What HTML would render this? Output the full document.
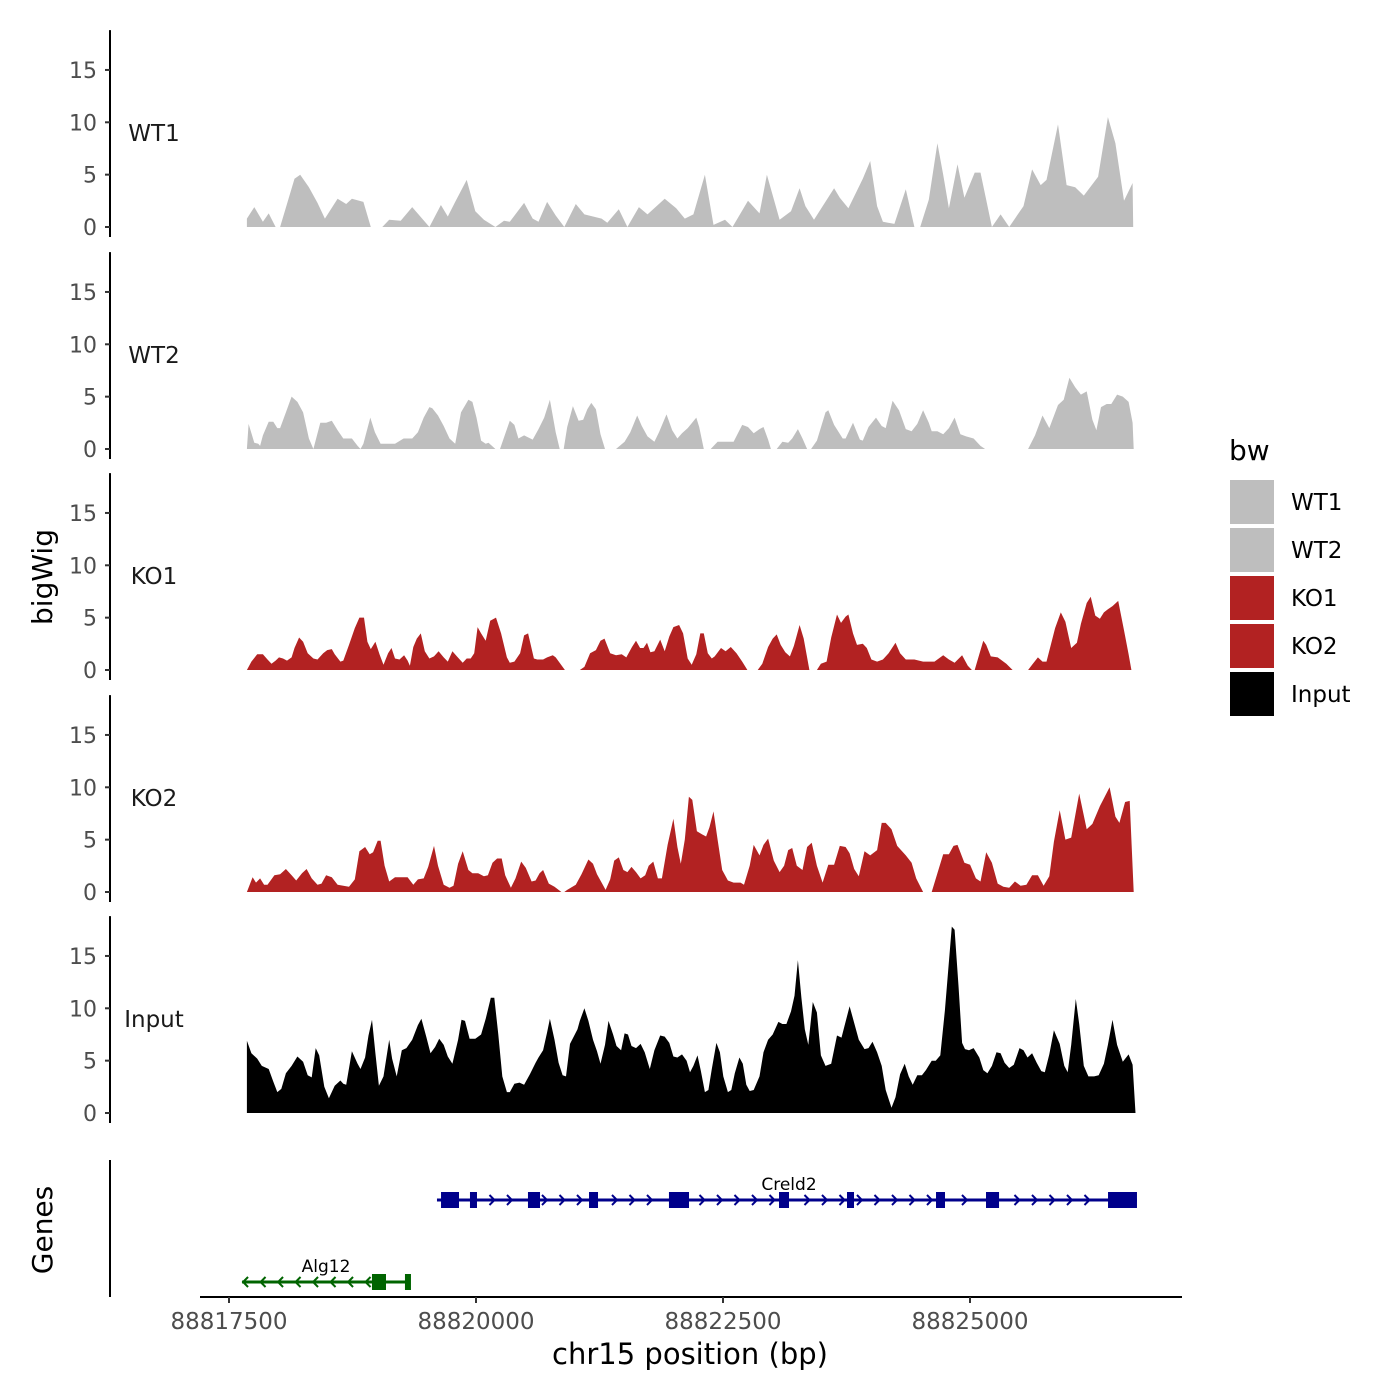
<!DOCTYPE html>
<html><head><meta charset="utf-8"><style>
html,body{margin:0;padding:0;background:#fff;}
svg{display:block;font-family:"DejaVu Sans","Liberation Sans",sans-serif;}
</style></head><body>
<svg id="chart" width="1400" height="1400" viewBox="0 0 1400 1400"></svg>
<script>
// ---- data ----
const regionStart = 88817611;   // bp of bin 0
const binSize = 5.81;            // bp per bin
const trackNames = ["WT1","WT2","KO1","KO2","Input"];
const trackColors = ["#bebebe","#bebebe","#b22222","#b22222","#000000"];
const yTicks = [0,5,10,15];
const xTickValues = [88817500,88820000,88822500,88825000];
const xTickLabels = ["88817500","88820000","88822500","88825000"];

const wt1 = [[12,0.8],[25,1.9],[40,0.5],[50,1.3],[62,0],null,[70,0],[95,4.6],[105,5],[120,3.8],[135,2.3],[148,0.8],[170,2.7],[185,2.2],[195,2.7],[215,2.4],[228,0],null,[248,0],[260,0.7],[280,0.6],[300,1.9],[330,0],[350,2.1],[362,1],[375,2.4],[395,4.5],[410,1.5],[425,0.7],[445,0],[460,0.6],[470,0.5],[495,2.3],[510,0.8],[520,0.5],[535,2.4],[550,1.1],[565,0],[585,2.2],[600,1.2],[630,0.8],[640,0.4],[660,1.7],[675,0],[695,1.9],[710,1.2],[740,2.7],[760,1.8],[775,0.8],[790,1.2],[810,5],[825,0.2],[845,0.7],[858,0],[885,2.5],[905,1.3],[918,5],[940,0.7],[960,1.5],[975,3.7],[985,2],[1000,0.7],[1035,3.7],[1045,2.8],[1060,1.8],[1085,4.6],[1098,6.3],[1110,2],[1120,0.5],[1140,0.3],[1160,3.6],[1175,0],null,[1185,0],[1200,2.6],[1215,8],[1225,5],[1235,1.8],[1250,6],[1262,2.8],[1280,5.2],[1290,5.2],[1310,0],[1325,1.2],[1340,0],[1355,1.2],[1365,2],[1380,5.5],[1395,4],[1405,4.5],[1425,9.8],[1440,4],[1455,3.8],[1470,3],[1495,4.8],[1512,10.5],[1525,8],[1540,2.5],[1555,4.2],[1556,0]];

const wt2 = [[12,0],[15,2.4],[25,0.6],[32,0.5],[35,0.3],[40,1.3],[50,2.6],[58,2.6],[65,2],[70,2],[80,3.5],[90,5],[100,4.5],[110,3.5],[120,1],[128,0],[140,2.5],[150,2.5],[160,2.7],[170,1.8],[180,1],[195,1],[205,0.3],[210,0],[215,0.5],[227,3],[235,1.6],[245,0.5],[250,0.5],[270,0.5],[285,1],[300,1],[310,1.6],[320,3],[330,4],[335,3.9],[345,3.2],[355,2.2],[365,1],[375,0.5],[385,3.5],[398,4.7],[405,4.5],[412,3],[420,0.8],[428,0.5],[433,0.6],[445,0],[453,0],[470,2.7],[478,2.3],[485,1],[495,1.3],[510,0.9],[520,1.9],[530,3],[540,4.7],[550,1.6],[557,0],[564,0],[570,2.1],[580,4.1],[590,2.7],[598,2.8],[605,3.8],[612,4.4],[620,3.8],[628,1.4],[636,0],null,[655,0],[670,0.7],[680,1.6],[692,3.2],[700,2.2],[710,1.2],[722,0.7],[730,1.6],[743,3.3],[753,1.8],[762,1],[770,1.5],[780,2],[795,3],[800,2.1],[808,0],null,[820,0],[832,0.7],[850,0.7],[860,0.7],[875,2.3],[885,2.1],[895,1.5],[905,1.9],[912,2.1],[920,0.9],[925,0],[935,0],[945,0.7],[955,0.6],[962,1],[972,1.9],[980,1],[988,0],null,[995,0],[1005,0.8],[1020,3.5],[1025,3.7],[1035,2.3],[1050,1],[1055,1],[1068,2.5],[1080,0.9],[1085,0.8],[1095,2.1],[1108,3],[1118,2.2],[1125,2],[1137,4.6],[1148,3.7],[1160,1.9],[1170,1.7],[1180,2.4],[1190,3.7],[1200,2.5],[1205,1.7],[1215,1.7],[1225,1.4],[1235,2],[1245,3],[1255,1.4],[1265,1.2],[1278,1],[1290,0.3],[1298,0],null,[1373,0],[1385,1.3],[1398,3.2],[1410,2],[1425,4.2],[1435,4.7],[1445,6.8],[1455,5.9],[1465,5.2],[1475,5.5],[1485,2.8],[1492,1.8],[1500,4],[1510,4.3],[1518,4.3],[1528,5.2],[1538,5],[1548,4.5],[1555,2.5],[1557,0]];

const ko1 = [[12,0],[20,0.8],[30,1.5],[40,1.5],[48,1],[55,0.6],[62,0.9],[68,1.2],[75,1.1],[82,0.9],[90,1.2],[95,2.1],[103,3.1],[110,2.7],[118,1.6],[128,1.1],[135,1],[145,1.6],[152,1.9],[160,2],[165,1.5],[175,0.8],[180,0.9],[190,2.4],[200,4],[208,5],[216,5],[222,2.7],[228,2],[236,2.7],[243,1.5],[250,0.5],[258,1.6],[264,2.1],[270,1.1],[278,1],[286,1.4],[292,0.9],[296,0.4],[302,2.2],[308,3],[315,3.5],[322,1.8],[330,1.1],[338,1.3],[346,1.8],[355,1.2],[362,0.8],[370,1.8],[378,1.3],[388,0.7],[395,1.1],[402,1.1],[408,1.6],[414,4.1],[420,3.5],[428,2.8],[436,4.7],[446,5],[455,3.5],[465,1.2],[470,0.7],[478,0.8],[488,1.6],[495,3.3],[502,3.5],[512,1.1],[518,1],[528,1],[535,1.2],[545,1.4],[550,1.2],[566,0],null,[592,0],[600,0.3],[610,1.6],[620,1.9],[628,2.8],[635,3],[645,1.6],[655,1.4],[665,1.5],[673,1.2],[683,2.2],[690,2.8],[697,2.1],[703,2.1],[709,2.6],[715,1.7],[722,1.8],[732,2.9],[740,1.8],[748,3.2],[755,4.1],[765,4.3],[772,3.5],[780,1.1],[787,0.5],[795,1.5],[802,3.5],[808,3.5],[815,1.6],[822,1.1],[827,1.3],[838,2.1],[846,1.8],[855,2.2],[865,1.6],[875,0.8],[884,0],null,[902,0],[910,0.6],[920,2.2],[928,3],[935,3.4],[942,2.4],[950,1.7],[958,1.3],[965,2.3],[975,4.3],[982,3],[992,0],null,[1005,0],[1012,0.6],[1022,0.8],[1030,3.1],[1040,5.3],[1047,4.5],[1055,5.1],[1060,5.3],[1068,3.5],[1075,2.4],[1085,2.5],[1092,2.1],[1100,1],[1110,0.8],[1120,1],[1130,1.6],[1142,2.6],[1150,1.6],[1160,1],[1175,1],[1190,0.8],[1210,0.8],[1225,1.4],[1235,1],[1245,0.7],[1258,1.4],[1268,0.4],[1275,0],[1280,0],[1288,1.5],[1295,2.8],[1300,2.4],[1308,1.3],[1320,1.2],[1335,0.6],[1346,0],null,[1373,0],[1380,0.5],[1390,1.2],[1398,0.8],[1405,0.8],[1413,2.5],[1420,4],[1430,5.5],[1438,4.6],[1448,2.1],[1458,2.6],[1465,4.4],[1475,6.4],[1482,7],[1490,5.2],[1498,4.9],[1505,5.5],[1512,5.8],[1520,6.1],[1530,6.6],[1540,3.8],[1548,1.5],[1553,0]];

const ko2 = [[12,0],[22,1.4],[28,0.9],[35,1.3],[42,0.7],[48,0.7],[60,1.6],[70,1.7],[80,2.2],[90,1.6],[98,1.1],[108,1.8],[116,2.2],[125,1.3],[135,0.7],[142,0.8],[150,1.6],[160,1.4],[170,0.7],[180,0.6],[190,0.5],[200,1.2],[208,3.9],[218,4.3],[226,3.6],[232,3.8],[240,4.9],[245,4.9],[252,2.5],[260,1],[270,1.4],[278,1.4],[292,1.4],[302,0.7],[310,1.2],[320,1.3],[328,2.4],[338,4.4],[345,2.5],[355,0.7],[365,0.4],[372,0.6],[380,2.7],[388,3.9],[398,2.1],[405,1.8],[415,1.8],[425,1.5],[432,1.6],[440,2.8],[448,3.2],[456,3.2],[462,1.6],[472,0.4],[480,1.3],[490,2.9],[498,2.3],[508,1],[515,1.1],[522,1.8],[528,2.1],[538,0.8],[548,0.5],[560,0],null,[565,0],[570,0.2],[585,0.7],[595,1.7],[607,3.1],[615,2.7],[622,1.7],[632,0.7],[637,0.2],[645,1.2],[652,3],[660,3.3],[668,2.1],[675,1.9],[682,2.4],[690,1.9],[698,1.3],[706,1.6],[712,2.5],[720,2.9],[728,1.3],[735,1.3],[745,4.5],[755,7],[762,4.3],[768,2.7],[775,5],[782,9.1],[788,8.8],[796,5.8],[805,5.5],[812,5.3],[818,6.2],[825,7.7],[832,5],[840,2.1],[850,1.1],[860,0.9],[872,0.9],[878,0.7],[888,2.5],[895,4.5],[905,3.5],[912,4.5],[920,5.1],[930,3],[940,1.9],[948,2.5],[955,4],[962,4.2],[970,2.5],[980,2.1],[988,4.3],[996,4.7],[1005,2.5],[1015,0.9],[1025,2.6],[1035,2.6],[1045,4.4],[1055,4.3],[1062,3.7],[1070,2.2],[1078,1.5],[1088,3.9],[1098,3.5],[1110,4],[1118,6.6],[1125,6.6],[1135,6],[1145,4.4],[1160,3.5],[1170,2.8],[1178,1.3],[1190,0],null,[1205,0],[1215,1.8],[1225,3.6],[1235,3.6],[1243,4.4],[1250,4.5],[1262,2.8],[1272,2.6],[1282,1.3],[1290,1],[1300,3.8],[1310,2.8],[1320,0.8],[1330,0.5],[1340,0.4],[1350,1],[1360,0.6],[1370,0.7],[1380,1.6],[1390,1.6],[1400,0.6],[1410,1.5],[1418,4.8],[1428,7.8],[1438,5],[1448,5.2],[1462,9.4],[1475,6],[1485,6.5],[1498,8.2],[1515,10],[1525,7.2],[1532,6.6],[1542,8.6],[1550,8.7],[1557,0]];

const inputTrack = [[12,0],[12,6.9],[20,5.7],[30,5.2],[38,4.5],[50,4.2],[58,3],[65,2],[72,2.3],[80,3.8],[90,4.5],[100,5.4],[110,4.9],[118,3.6],[125,3.4],[132,6.2],[138,5.5],[147,2.5],[155,1.4],[165,2.6],[175,3.1],[180,2.8],[185,2.7],[195,5.9],[205,4.7],[210,4.2],[218,5.3],[224,7.4],[230,8.9],[236,5.7],[242,2.6],[250,3.5],[260,7],[265,5.2],[273,3.5],[282,6],[290,6.2],[300,7],[310,8.4],[316,9],[325,7.2],[332,5.7],[340,6.3],[347,7.1],[355,6.5],[362,5.4],[370,4.7],[380,7],[386,8.9],[392,8.8],[400,7.1],[410,7.1],[420,7.5],[428,9],[437,11],[443,11],[450,7.5],[457,3.5],[465,2],[470,2],[478,2.8],[487,2.9],[495,2.7],[505,3.7],[515,4.8],[520,5.3],[528,6],[535,7.7],[540,9],[548,7],[555,4.8],[562,3.6],[568,3.5],[575,6.6],[588,8],[592,8.8],[600,10],[607,8.8],[615,7],[622,5.9],[628,4.7],[636,6.5],[642,8.8],[650,7.5],[656,6.4],[664,6],[670,7.6],[676,7.5],[682,6.4],[690,6.2],[698,6.6],[705,5.8],[714,4.2],[722,6],[732,7.4],[740,7.3],[748,6.7],[755,5.4],[762,5.3],[770,5.6],[778,5],[784,3.9],[790,4.5],[797,5.5],[803,4],[810,2],[816,2.2],[822,4.2],[830,6.7],[836,5.8],[842,3.5],[850,2],[856,2.2],[862,3.8],[870,5.3],[876,4.7],[882,2.7],[888,2.1],[895,2.2],[905,3.5],[912,5.8],[920,7],[928,7.5],[938,8.7],[945,8.5],[952,8.5],[960,9.7],[966,11.2],[972,14.6],[978,11],[984,8],[990,6.5],[998,10.6],[1005,9.6],[1012,5.5],[1020,4.5],[1030,4.7],[1040,7.4],[1048,7.2],[1056,8.9],[1062,10.2],[1070,8.6],[1078,7],[1088,6.1],[1095,6.2],[1102,6.8],[1110,5.8],[1118,4.5],[1125,2.2],[1135,0.5],[1142,1.5],[1150,3.7],[1158,4.7],[1165,3.5],[1172,2.7],[1180,3.6],[1188,3.6],[1195,4.1],[1205,5],[1212,5],[1220,5.5],[1228,9.8],[1240,17.8],[1245,17.5],[1252,12],[1258,6.7],[1263,6.1],[1270,6],[1278,6.2],[1288,5.3],[1295,4.1],[1302,3.8],[1310,4.5],[1318,5.8],[1325,5.7],[1332,4.8],[1340,4.3],[1348,4.6],[1358,6.2],[1365,6],[1372,5.3],[1380,5.7],[1388,4.8],[1396,4],[1402,3.9],[1410,5.6],[1418,7.9],[1428,6.6],[1436,4.5],[1442,3.9],[1448,6.5],[1456,10.9],[1462,8.5],[1470,4.5],[1478,3.5],[1488,3.5],[1496,3.6],[1505,4.7],[1512,6.5],[1520,8.9],[1528,6.5],[1538,4.9],[1548,5.6],[1555,4.6],[1560,0]];

// genes (bp)
const creld2Span = [88819605, 88826690];
const creld2Exons = [[88819646,88819828],[88819939,88820010],[88820526,88820648],[88821144,88821235],[88821953,88822156],[88823067,88823168],[88823755,88823826],[88824656,88824747],[88825162,88825294],[88826397,88826690]];
const alg12Span = [88817632, 88819312];
const alg12Exons = [[88818947,88819089],[88819281,88819312]];

const trackData = [wt1, wt2, ko1, ko2, inputTrack];

// ---- scales ----
const NS = "http://www.w3.org/2000/svg";
const svg = document.getElementById("chart");
function xScale(bp){ return 229 + (bp - 88817500) * 0.0988; }
function binToBp(b){ return regionStart + b * binSize; }
const panelZero = [227, 449, 670, 892, 1113];
const pxPerUnit = 10.47;
function yScale(panel, v){ return panelZero[panel] - v * pxPerUnit; }

function mk(tag, attrs, parent){
  const e = document.createElementNS(NS, tag);
  for (const k in attrs) e.setAttribute(k, attrs[k]);
  (parent || svg).appendChild(e);
  return e;
}
function txt(s, attrs, parent){ const t = mk("text", attrs, parent); t.textContent = s; return t; }

// ---- tracks ----
trackData.forEach((series, p) => {
  const g = mk("g", {});
  
  
  const ax = mk("line", {x1:110, x2:110, y1:yScale(p,18.8), y2:yScale(p,-0.95), stroke:"#000", "stroke-width":2}, g);
  
  
  yTicks.forEach(t => {
    const y = yScale(p, t);
    const tk = mk("line", {x1:105, x2:110, y1:y, y2:y, stroke:"#333", "stroke-width":2}, g);
    
    
    const tl = txt(String(t), {x:97, y:y+8, "text-anchor":"end", "font-size":22, fill:"#4d4d4d"}, g);
    
    
  });
  let d = "", seg = [];
  const flush = () => {
    if (seg.length){
      d += "M" + seg[0][0].toFixed(1) + "," + panelZero[p];
      seg.forEach(q => { d += "L" + q[0].toFixed(1) + "," + q[1].toFixed(1); });
      d += "L" + seg[seg.length-1][0].toFixed(1) + "," + panelZero[p] + "Z";
    }
    seg = [];
  };
  series.forEach(pt => {
    if (pt === null){ flush(); return; }
    seg.push([xScale(binToBp(pt[0])), yScale(p, pt[1])]);
  });
  flush();
  const area = mk("path", {d:d, fill:trackColors[p], stroke:"none"}, g);
  
  
  const lab = txt(trackNames[p], {x:154, y:yScale(p,8.2), "text-anchor":"middle", "font-size":23, fill:"#1a1a1a"}, g);
  
  
});

// ---- gene panel ----
const gg = mk("g", {});


const gAx = mk("line", {x1:110, x2:110, y1:1160, y2:1297, stroke:"#000", "stroke-width":2}, gg);



function drawGene(name, span, exons, y, color, dir){
  const g = mk("g", {}, gg);
  
  
  const x0 = xScale(span[0]), x1 = xScale(span[1]);
  mk("line", {x1:x0, x2:x1, y1:y, y2:y, stroke:color, "stroke-width":3}, g);
  const ex = exons.map(e => [xScale(e[0]), xScale(e[1])]);
  for (let cx = x0 + 3; cx < x1 - 3; cx += 17.5){
    if (ex.some(e => cx > e[0]-4 && cx < e[1]+4)) continue;
    const pts = dir > 0 ? `${cx-3},${y-5} ${cx+2},${y} ${cx-3},${y+5}` : `${cx+3},${y-5} ${cx-2},${y} ${cx+3},${y+5}`;
    mk("polyline", {points:pts, fill:"none", stroke:color, "stroke-width":2}, g);
  }
  ex.forEach(e => {
    const w = Math.max(e[1]-e[0], 6);
    const r = mk("rect", {x:e[0], y:y-8, width:w, height:16, fill:color}, g);
    
    
  });
  const t = txt(name, {x:(dir>0? 789 : 326), y:y-10, "text-anchor":"middle", "font-size":17, fill:"#000"}, g);
  
  
}
drawGene("Creld2", creld2Span, creld2Exons, 1200, "#00008b", 1);
drawGene("Alg12", alg12Span, alg12Exons, 1282, "#006400", -1);

// ---- x axis ----
const xAx = mk("line", {x1:200, x2:1182, y1:1297, y2:1297, stroke:"#000", "stroke-width":2});


xTickValues.forEach((v, i) => {
  const x = xScale(v);
  const tk = mk("line", {x1:x, x2:x, y1:1297, y2:1303, stroke:"#333", "stroke-width":2});
  
  
  const tl = txt(xTickLabels[i], {x:x, y:1329, "text-anchor":"middle", "font-size":23, fill:"#4d4d4d"});
  
  
});
const xt = txt("chr15 position (bp)", {x:690, y:1364, "text-anchor":"middle", "font-size":29, fill:"#000"});


const yt = txt("bigWig", {x:0, y:0, "text-anchor":"middle", "font-size":28, fill:"#000", transform:"translate(52,577) rotate(-90)"});


const gt = txt("Genes", {x:0, y:0, "text-anchor":"middle", "font-size":28, fill:"#000", transform:"translate(52,1230) rotate(-90)"});



// ---- legend ----
const lg = mk("g", {});


const lt = txt("bw", {x:1229, y:460, "font-size":28, fill:"#000"}, lg);


trackNames.forEach((n, i) => {
  const top = 480 + i * 48;
  const e = mk("g", {}, lg);
  
  
  mk("rect", {x:1230, y:top, width:44, height:44, fill:trackColors[i]}, e);
  txt(n, {x:1291, y:top+30, "font-size":23, fill:"#000"}, e);
});
</script>
</body></html>
